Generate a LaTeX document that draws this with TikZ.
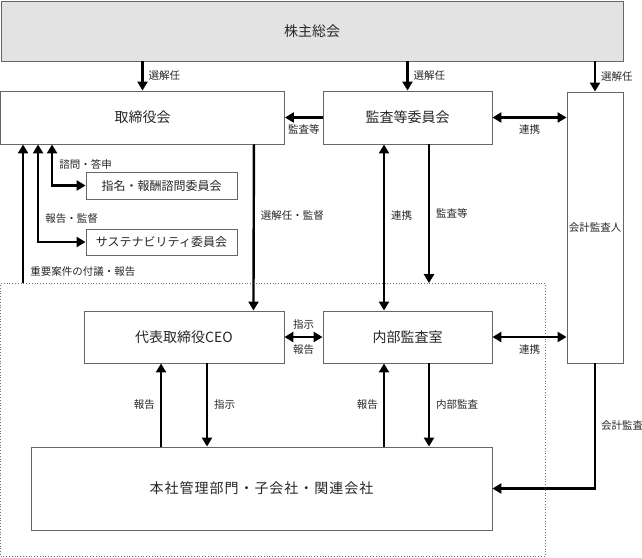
\documentclass[tikz,border=0pt]{standalone}
\usepackage{fontspec}
\setmainfont{Noto Sans CJK JP}
\newfontfamily\widejp[LetterSpace=7]{Noto Sans CJK JP}
\usepackage{tikz}
\usetikzlibrary{arrows.meta,positioning}

\begin{document}
\begin{tikzpicture}[
  x=1pt, y=-1pt,
  font=\fontsize{14}{16}\selectfont,
  box/.style={rectangle, draw=black!60, line width=0.9pt, inner sep=0pt,
  text=black!85},
  smallbox/.style={box, font=\fontsize{12}{14}\selectfont},
  zone/.style={rectangle, draw=black!55, dotted, line width=0.8pt, inner sep=0pt},
  conn/.style={draw=black, line width=2.4pt, -{Triangle[width=10pt,length=9pt]}},
  both/.style={draw=black, line width=2.4pt,
  {Triangle[width=10pt,length=9pt]}-{Triangle[width=10pt,length=9pt]}},
  tlabel/.style={font=\fontsize{10.5}{12}\selectfont, text=black!85, inner sep=0pt},
]
\useasboundingbox (0,0) rectangle (642,557);

\node[box, fill=black!11, minimum width=622pt, minimum height=60pt] (soukai) at (312,31) {株主総会};
\node[box, minimum width=284pt, minimum height=53pt] (board) at (142.5,117.5) {取締役会};
\node[box, minimum width=169pt, minimum height=53pt] (auditcom) at (407.5,117.5) {監査等委員会};
\node[box, minimum width=56pt, minimum height=271pt, font=\fontsize{10.5}{12}\selectfont] (accaud) at (595,227.5) {会計監査人};
\node[smallbox, minimum width=151pt, minimum height=27pt] (nomcom) at (161.5,185.5) {指名・報酬諮問委員会};
\node[smallbox, minimum width=151pt, minimum height=26pt] (suscom) at (161.5,242) {サステナビリティ委員会};
\node[zone, minimum width=544.5pt, minimum height=273pt] (exec) at (272.75,420) {};
\node[box, minimum width=200pt, minimum height=52pt] (ceo) at (184,337) {代表取締役CEO};
\node[box, minimum width=169pt, minimum height=52pt] (iad) at (407.5,337) {内部監査室};
\node[box, minimum width=461pt, minimum height=83pt] (group) at (261.5,488.5) {\widejp 本社管理部門・子会社・関連会社};

\draw[conn] (soukai.south -| board.north) -- (board.north)
  node[tlabel, midway, right=5pt] (l1) {選解任};
\draw[conn] (soukai.south -| auditcom.north) -- (auditcom.north)
  node[tlabel, midway, right=5pt] (l2) {選解任};
\draw[conn] (soukai.south -| accaud.north) -- (accaud.north)
  node[tlabel, midway, right=5pt] (l3) {選解任};
\draw[conn] (auditcom.west) -- (board.east)
  node[tlabel, midway, below=6pt] (l4) {監査等};
\draw[both] (auditcom.east) -- (auditcom.east -| accaud.west)
  node[tlabel, midway, below=6pt] (l5) {連携};

\coordinate (nomfoot) at ([xshift=52pt]board.south west);
\coordinate (susfoot) at ([xshift=38pt]board.south west);
\coordinate (repfoot) at ([xshift=23pt]board.south west);
\draw[both] (nomfoot) |- (nomcom.west)
  node[tlabel, pos=0.24, right=6pt] (l6) {諮問・答申};
\draw[both] (susfoot) |- (suscom.west)
  node[tlabel, pos=0.38, right=6pt] (l7) {報告・監督};
\draw[conn] (repfoot |- exec.north) -- (repfoot)
  node[tlabel, pos=0.08, right=6pt] (l8) {重要案件の付議・報告};

\draw[conn] ([xshift=-31pt]board.south east) -- ([xshift=-31pt]ceo.north east)
  node[tlabel, pos=0.43, right=6pt] (l9) {選解任・監督};
\draw[both] ([xshift=-23.5pt]auditcom.south) -- ([xshift=-23.5pt]iad.north)
  node[tlabel, pos=0.43, right=6pt] (l10) {連携};
\coordinate (audfoot) at ([xshift=21.5pt]auditcom.south);
\draw[conn] (audfoot) -- (audfoot |- exec.north)
  node[tlabel, midway, right=6pt] (l11) {監査等};

\draw[both] (ceo.east) -- (iad.west)
  node[tlabel, midway, above=6pt] (l12) {指示}
  node[tlabel, midway, below=6pt] (l13) {報告};
\draw[both] (iad.east) -- (iad.east -| accaud.west)
  node[tlabel, midway, below=6pt] (l14) {連携};

\coordinate (ceoup) at ([xshift=-23pt]ceo.south);
\coordinate (ceodown) at ([xshift=23pt]ceo.south);
\coordinate (iadup) at ([xshift=-23.5pt]iad.south);
\coordinate (iaddown) at ([xshift=21.5pt]iad.south);
\draw[conn] (ceoup |- group.north) -- (ceoup)
  node[tlabel, midway, left=5pt] (l15) {報告};
\draw[conn] (ceodown) -- (ceodown |- group.north)
  node[tlabel, midway, right=6pt] (l16) {指示};
\draw[conn] (iadup |- group.north) -- (iadup)
  node[tlabel, midway, left=5pt] (l17) {報告};
\draw[conn] (iaddown) -- (iaddown |- group.north)
  node[tlabel, midway, right=6pt] (l18) {内部監査};
\draw[conn] (accaud.south) |- (group.east)
  node[tlabel, pos=0.25, right=5pt] (l19) {会計監査};
\end{tikzpicture}
\end{document}
